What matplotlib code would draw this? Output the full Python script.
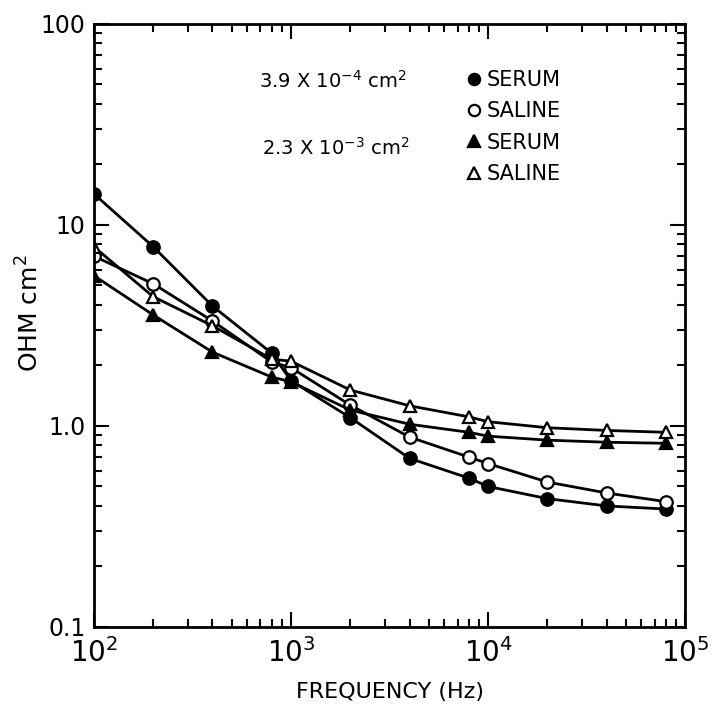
import numpy as np
import matplotlib
matplotlib.use("Agg")
import matplotlib.pyplot as plt
from matplotlib.ticker import LogLocator, NullFormatter, FixedLocator, FixedFormatter

plt.rcParams['font.family'] = ['DejaVu Sans']
plt.rcParams['mathtext.fontset'] = 'dejavusans'

freq = [100, 200, 400, 800, 1000, 2000, 4000, 8000, 10000, 20000, 40000, 80000]

# 3.9e-4 cm2 electrode
small_serum = [14.3, 7.8, 3.95, 2.3, 1.68, 1.1, 0.69, 0.55, 0.50, 0.435, 0.40, 0.386]
small_saline = [7.0, 5.1, 3.33, 2.08, 1.95, 1.27, 0.88, 0.70, 0.65, 0.526, 0.464, 0.42]
# 2.3e-3 cm2 electrode
large_serum = [5.6, 3.57, 2.33, 1.75, 1.66, 1.2, 1.02, 0.93, 0.89, 0.85, 0.83, 0.82]
large_saline = [7.8, 4.4, 3.15, 2.15, 2.1, 1.51, 1.26, 1.11, 1.05, 0.98, 0.95, 0.93]

fig = plt.figure(figsize=(7.16, 7.27), dpi=100)
ax = fig.add_axes([0.131, 0.1376, 0.826, 0.8294])

kw = dict(color='black', lw=2.0, markersize=9, markeredgewidth=1.6)
l1, = ax.plot(freq, small_serum, marker='o', markerfacecolor='black', **kw)
l2, = ax.plot(freq, small_saline, marker='o', markerfacecolor='white', **kw)
l3, = ax.plot(freq, large_serum, marker='^', markerfacecolor='black', **kw)
l4, = ax.plot(freq, large_saline, marker='^', markerfacecolor='white', **kw)

ax.set_xscale('log')
ax.set_yscale('log')
ax.set_xlim(1e2, 1e5)
ax.set_ylim(0.1, 100)

for s in ax.spines.values():
    s.set_linewidth(2)

ax.tick_params(which='both', direction='in', top=True, right=True, width=1.5, labelsize=17)
ax.tick_params(which='major', length=11)
ax.tick_params(which='minor', length=6)
ax.xaxis.set_minor_locator(LogLocator(base=10, subs=np.arange(2, 10)))
ax.yaxis.set_minor_locator(LogLocator(base=10, subs=np.arange(2, 10)))
ax.xaxis.set_minor_formatter(NullFormatter())
ax.yaxis.set_minor_formatter(NullFormatter())

ax.xaxis.set_major_locator(FixedLocator([1e2, 1e3, 1e4, 1e5]))
ax.xaxis.set_major_formatter(FixedFormatter(['$10^2$', '$10^3$', '$10^4$', '$10^5$']))
ax.yaxis.set_major_locator(FixedLocator([0.1, 1, 10, 100]))
ax.yaxis.set_major_formatter(FixedFormatter(['0.1', '1.0', '10', '100']))
ax.tick_params(axis='x', pad=8, labelsize=20)
ax.tick_params(axis='y', pad=6)

ax.set_xlabel('FREQUENCY (Hz)', fontsize=16, labelpad=10)
ax.set_ylabel('OHM cm$^2$', fontsize=18)
ax.yaxis.set_label_coords(-0.085, 0.52)

ax.text(0.28, 0.905, '3.9 X 10$^{-4}$ cm$^2$', transform=ax.transAxes, fontsize=14, va='center')
ax.text(0.285, 0.795, '2.3 X 10$^{-3}$ cm$^2$', transform=ax.transAxes, fontsize=14, va='center')

leg = ax.legend([l1, l2, l3, l4], ['SERUM', 'SALINE', 'SERUM', 'SALINE'],
                loc='upper left', bbox_to_anchor=(0.6, 0.955), frameon=False,
                handlelength=0.6, handletextpad=0.3, labelspacing=0.55, fontsize=15,
                markerscale=0.9)
for h in leg.legend_handles:
    h.set_linestyle('none')

fig.savefig('out.png', dpi=100)
